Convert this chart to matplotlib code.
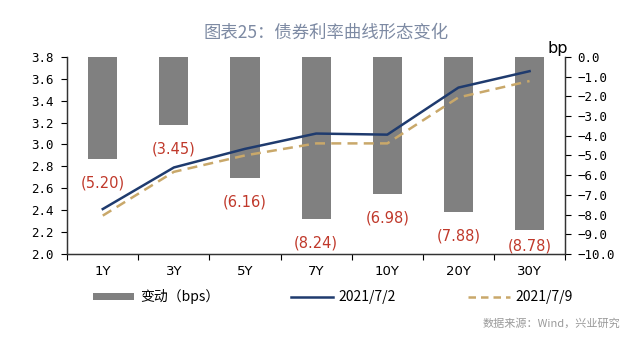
import matplotlib.pyplot as plt
from matplotlib.patches import Patch
from matplotlib.lines import Line2D
import numpy as np

plt.rcParams['font.family'] = ['Noto Sans CJK SC', 'DejaVu Sans']

# 期限与收益率 (%), 变动 (bp)
tenors = ['1Y', '3Y', '5Y', '7Y', '10Y', '20Y', '30Y']
yield_0702 = [2.41, 2.79, 2.96, 3.10, 3.09, 3.52, 3.67]
yield_0709 = [2.35, 2.75, 2.90, 3.01, 3.01, 3.43, 3.58]
change_bp = [-5.20, -3.45, -6.16, -8.24, -6.98, -7.88, -8.78]

navy = '#1f3b6e'
tan = '#c9a86a'
bar_gray = '#808080'
red = '#c0392b'
mono = 'DejaVu Sans Mono'

fig = plt.figure(figsize=(6.4, 3.39), dpi=100)
ax = fig.add_axes([0.105, 0.251, 0.778, 0.581])
ax2 = ax.twinx()

x = np.arange(len(tenors))

# 变动柱 (右轴)
ax2.bar(x, change_bp, width=0.41, color=bar_gray, zorder=1)
# 标签放在柱底下方, 30Y 贴近横轴
label_gap = [17, 17, 17, 17, 17, 17, 11.5]
for xi, v, gap in zip(x, change_bp, label_gap):
    ax2.annotate(f'({abs(v):.2f})', (xi, v), xytext=(0, -gap), textcoords='offset points',
                 ha='center', va='center', color=red, fontsize=10.5, family='DejaVu Sans')
ax2.set_ylim(-10, 0)
right_ticks = np.arange(-10, 0.1, 1)
ax2.set_yticks(right_ticks)
ax2.set_yticklabels([f'{t:.1f}'.replace('-', '\u2212') if t != 0 else '0.0'
                     for t in right_ticks], family=mono, fontsize=9)
ax2.tick_params(axis='y', length=4, pad=5)

# 收益率曲线 (左轴)
ax.set_zorder(ax2.get_zorder() + 1)
ax.patch.set_visible(False)
ax.plot(x, yield_0702, color=navy, lw=1.8)
ax.plot(x, yield_0709, color=tan, lw=1.8, ls=(0, (4, 2.5)))
ax.set_ylim(2.0, 3.8)
left_ticks = np.arange(2.0, 3.81, 0.2)
ax.set_yticks(left_ticks)
ax.set_yticklabels([f'{t:.1f}' for t in left_ticks], family=mono, fontsize=9)
ax.tick_params(axis='y', length=4, pad=6)

ax.set_xlim(-0.5, len(tenors) - 0.5)
ax.set_xticks(np.arange(-0.5, len(tenors), 1))
ax.set_xticklabels([])
ax.set_xticks(x, minor=True)
ax.set_xticklabels(tenors, minor=True, family='DejaVu Sans', fontsize=9.5)
ax.tick_params(axis='x', which='major', length=4, direction='out')
ax.tick_params(axis='x', which='minor', length=0, pad=8)

for a in (ax, ax2):
    a.spines['top'].set_visible(False)
    for s in a.spines.values():
        s.set_color('#333333')
        s.set_linewidth(0.9)

fig.text(0.51, 0.905, '图表25：债券利率曲线形态变化', ha='center', va='center',
         fontsize=12.5, color='#7d8aa3')
fig.text(0.855, 0.858, 'bp', ha='left', va='center', fontsize=11.5, family='DejaVu Sans')

handles = [Patch(facecolor=bar_gray), Line2D([], [], color=navy, lw=1.8),
           Line2D([], [], color=tan, lw=1.8, ls=(0, (3, 2)))]
labels = ['变动（bps）', '2021/7/2', '2021/7/9']
fig.legend(handles, labels, loc='center', bbox_to_anchor=(0.52, 0.124), ncol=3,
           frameon=False, fontsize=10, columnspacing=5.2, handlelength=3.0,
           handletextpad=0.4, handleheight=0.5)

fig.text(0.97, 0.045, '数据来源：Wind，兴业研究', ha='right', va='center',
         fontsize=8, color='#9a9a9a')

fig.savefig('out.png', dpi=100)
